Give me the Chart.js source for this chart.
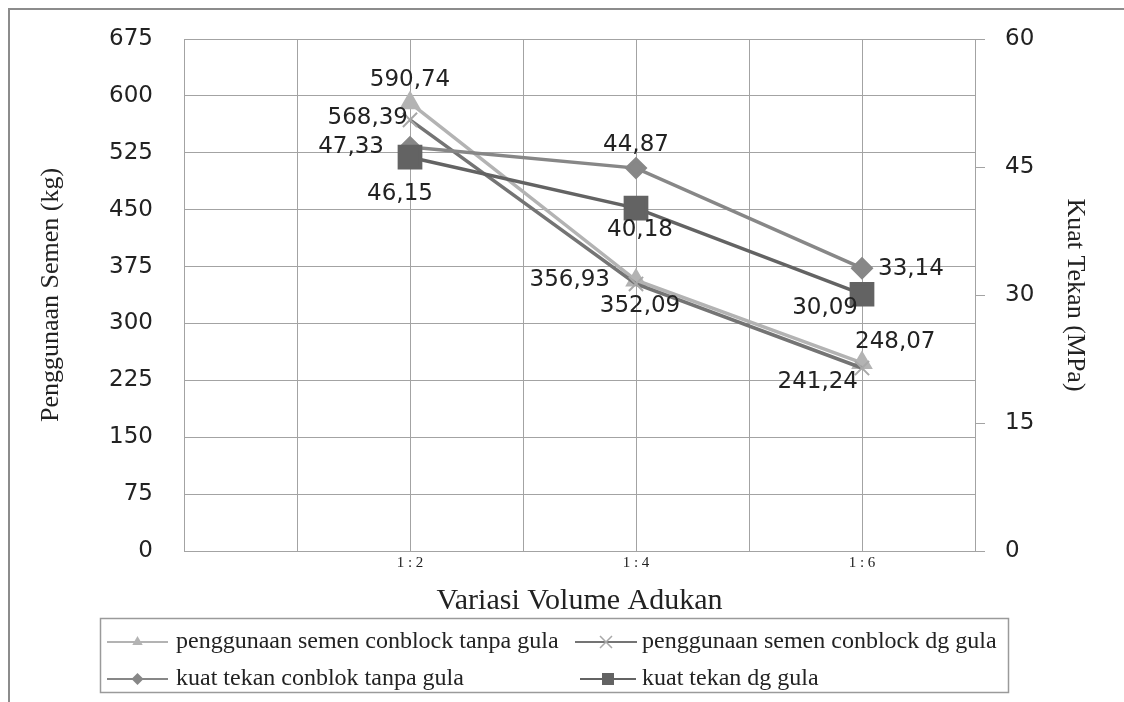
<!DOCTYPE html>
<html>
<head>
<meta charset="utf-8">
<script src="https://cdn.jsdelivr.net/npm/chart.js@4/dist/chart.umd.min.js"></script>
<style>
  html, body { margin: 0; padding: 0; background: #fff; }
</style>
</head>
<body>
<canvas id="chartCanvas" width="1124" height="702"></canvas>
<script>
// categories and where they sit on the 0..7 slot axis
const categories = ['1 : 2', '1 : 4', '1 : 6'];
const categorySlots = [2, 4, 6];

// left axis (kg)
const semenTanpaGula = [590.74, 356.93, 248.07];
const semenDgGula = [568.39, 352.09, 241.24];
// right axis (MPa)
const kuatTanpaGula = [47.33, 44.87, 33.14];
const kuatDgGula = [46.15, 40.18, 30.09];

const seriesNames = [
  'penggunaan semen conblock tanpa gula',
  'penggunaan semen conblock dg gula',
  'kuat tekan conblok tanpa gula',
  'kuat tekan dg gula'
];

const leftMax = 675, leftStep = 75;
const rightMax = 60, rightStep = 15;

const gridColor = '#a3a3a3';
const textColor = '#222';
const serif = '"Liberation Serif", "Times New Roman", serif';
const sans = '"DejaVu Sans", Verdana, sans-serif';

function points(values) {
  return values.map((v, i) => ({ x: categorySlots[i], y: v }));
}

// where each value label goes relative to its point
const labelPlace = {
  top:        { dx: 0,   dy: -23, align: 'center' },
  bottom:     { dx: 4,   dy: 22,  align: 'center' },
  bottomFar:  { dx: -10, dy: 37,  align: 'center' },
  left:       { dx: -26, dy: 0,   align: 'right' },
  leftNear:   { dx: -2,  dy: -2,  align: 'right' },
  right:      { dx: 16,  dy: 1,   align: 'left' },
  topRight:   { dx: -7,  dy: -21, align: 'left' },
  bottomLeft: { dx: -4,  dy: 14,  align: 'right' }
};

const valueLabels = {
  id: 'valueLabels',
  afterDatasetsDraw(chart) {
    const ctx = chart.ctx;
    ctx.save();
    ctx.font = '23px ' + sans;
    ctx.fillStyle = textColor;
    ctx.textBaseline = 'middle';
    chart.data.datasets.forEach((ds, di) => {
      const meta = chart.getDatasetMeta(di);
      meta.data.forEach((pt, i) => {
        const p = labelPlace[ds.labelPos[i]];
        ctx.textAlign = p.align;
        const txt = ds.data[i].y.toFixed(2).replace('.', ',');
        ctx.fillText(txt, pt.x + p.dx, pt.y + p.dy);
      });
    });
    ctx.restore();
  }
};

function drawMarker(ctx, style, x, y, r, fill, stroke) {
  ctx.beginPath();
  if (style === 'triangle') {
    ctx.moveTo(x, y - r);
    ctx.lineTo(x + r * 0.866, y + r * 0.5);
    ctx.lineTo(x - r * 0.866, y + r * 0.5);
    ctx.closePath();
    ctx.fillStyle = fill; ctx.fill();
  } else if (style === 'rectRot') {
    ctx.moveTo(x, y - r); ctx.lineTo(x + r, y); ctx.lineTo(x, y + r); ctx.lineTo(x - r, y);
    ctx.closePath();
    ctx.fillStyle = fill; ctx.fill();
  } else if (style === 'rect') {
    ctx.rect(x - r, y - r, 2 * r, 2 * r);
    ctx.fillStyle = fill; ctx.fill();
  } else if (style === 'crossRot') {
    ctx.moveTo(x - r, y - r); ctx.lineTo(x + r, y + r);
    ctx.moveTo(x + r, y - r); ctx.lineTo(x - r, y + r);
    ctx.strokeStyle = stroke; ctx.lineWidth = 1.5; ctx.stroke();
  }
}

// legend box under the axis title + outer frame
const boxLegend = {
  id: 'boxLegend',
  afterDraw(chart) {
    const ctx = chart.ctx;
    ctx.save();
    ctx.strokeStyle = '#8c8c8c';
    ctx.lineWidth = 2;
    ctx.strokeRect(9, 9, 1200, 800);

    ctx.lineWidth = 1.5;
    ctx.strokeStyle = '#9a9a9a';
    ctx.strokeRect(100.5, 618.5, 908, 74);

    const slots = [
      { x0: 107, x1: 168, tx: 176, y: 642 },
      { x0: 575, x1: 637, tx: 642, y: 642 },
      { x0: 107, x1: 168, tx: 176, y: 679 },
      { x0: 580, x1: 636, tx: 642, y: 679 }
    ];
    chart.data.datasets.forEach((ds, i) => {
      const s = slots[i];
      ctx.beginPath();
      ctx.moveTo(s.x0, s.y); ctx.lineTo(s.x1, s.y);
      ctx.strokeStyle = ds.borderColor; ctx.lineWidth = 2; ctx.stroke();
      drawMarker(ctx, ds.pointStyle, (s.x0 + s.x1) / 2, s.y, 6,
        ds.pointBackgroundColor, ds.pointBorderColor);
      ctx.font = '24px ' + serif;
      ctx.fillStyle = textColor;
      ctx.textAlign = 'left';
      ctx.textBaseline = 'middle';
      ctx.fillText(ds.label, s.tx, s.y);
    });
    ctx.restore();
  }
};

// keep tick padding from pushing the plot area down
function trimPadding(s, w) {
  s.width = w;
  s.paddingTop = 12;
  s.paddingBottom = 12;
}

const ctx = document.getElementById('chartCanvas').getContext('2d');

new Chart(ctx, {
  type: 'line',
  data: {
    datasets: [
      {
        label: seriesNames[0],
        data: points(semenTanpaGula),
        yAxisID: 'y',
        borderColor: '#b3b3b3',
        backgroundColor: '#b3b3b3',
        pointBackgroundColor: '#b3b3b3',
        pointBorderColor: '#b3b3b3',
        pointStyle: 'triangle',
        pointRadius: 9,
        borderWidth: 3.5,
        order: 3,
        labelPos: ['top', 'left', 'topRight']
      },
      {
        label: seriesNames[1],
        data: points(semenDgGula),
        yAxisID: 'y',
        borderColor: '#747474',
        backgroundColor: '#747474',
        pointBackgroundColor: '#a8a8a8',
        pointBorderColor: '#a8a8a8',
        pointStyle: 'crossRot',
        pointRadius: 10,
        pointBorderWidth: 2,
        borderWidth: 3.5,
        order: 2,
        labelPos: ['leftNear', 'bottom', 'bottomLeft']
      },
      {
        label: seriesNames[2],
        data: points(kuatTanpaGula),
        yAxisID: 'y1',
        borderColor: '#878787',
        backgroundColor: '#878787',
        pointBackgroundColor: '#878787',
        pointBorderColor: '#878787',
        pointStyle: 'rectRot',
        pointRadius: 9,
        borderWidth: 3.5,
        order: 1,
        labelPos: ['left', 'top', 'right']
      },
      {
        label: seriesNames[3],
        data: points(kuatDgGula),
        yAxisID: 'y1',
        borderColor: '#636363',
        backgroundColor: '#636363',
        pointBackgroundColor: '#636363',
        pointBorderColor: '#636363',
        pointStyle: 'rect',
        pointRadius: 15,
        borderWidth: 3.5,
        order: 0,
        labelPos: ['bottomFar', 'bottom', 'bottomLeft']
      }
    ]
  },
  options: {
    responsive: false,
    animation: false,
    devicePixelRatio: 1,
    layout: { padding: { top: 39, bottom: 83, left: 0, right: 0 } },
    plugins: {
      legend: { display: false },
      tooltip: { enabled: false }
    },
    scales: {
      x: {
        type: 'linear',
        min: 0,
        max: 7,
        afterFit: s => { s.height = 68; },
        afterBuildTicks: s => { s.ticks = [0, 1, 2, 3, 4, 5, 6, 7].map(v => ({ value: v })); },
        ticks: {
          autoSkip: false,
          maxRotation: 0,
          padding: 3,
          color: textColor,
          font: { family: serif, size: 15 },
          callback: v => {
            const i = categorySlots.indexOf(v);
            return i >= 0 ? categories[i] : '';
          }
        },
        grid: { color: gridColor, lineWidth: 1, drawTicks: false },
        border: { color: gridColor },
        title: {
          display: true,
          text: 'Variasi Volume Adukan',
          color: textColor,
          font: { family: serif, size: 30 },
          padding: { top: 0, bottom: 0 }
        }
      },
      y: {
        position: 'left',
        min: 0,
        max: leftMax,
        afterFit: s => trimPadding(s, 184),
        ticks: {
          stepSize: leftStep,
          padding: 31,
          color: textColor,
          font: { family: sans, size: 23 }
        },
        grid: { color: gridColor, lineWidth: 1, drawTicks: false },
        border: { color: gridColor },
        title: {
          display: true,
          text: 'Penggunaan Semen (kg)',
          color: textColor,
          font: { family: serif, size: 26 },
          padding: { top: 36, bottom: 0 }
        }
      },
      y1: {
        position: 'right',
        min: 0,
        max: rightMax,
        afterFit: s => trimPadding(s, 149),
        ticks: {
          stepSize: rightStep,
          padding: 20,
          color: textColor,
          font: { family: sans, size: 23 }
        },
        grid: { color: gridColor, lineWidth: 1, drawOnChartArea: false, drawTicks: true, tickLength: 10 },
        border: { color: gridColor },
        title: {
          display: true,
          text: 'Kuat Tekan (MPa)',
          color: textColor,
          font: { family: serif, size: 26 },
          padding: { top: 34, bottom: 0 }
        }
      }
    }
  },
  plugins: [valueLabels, boxLegend]
});
</script>
</body>
</html>
